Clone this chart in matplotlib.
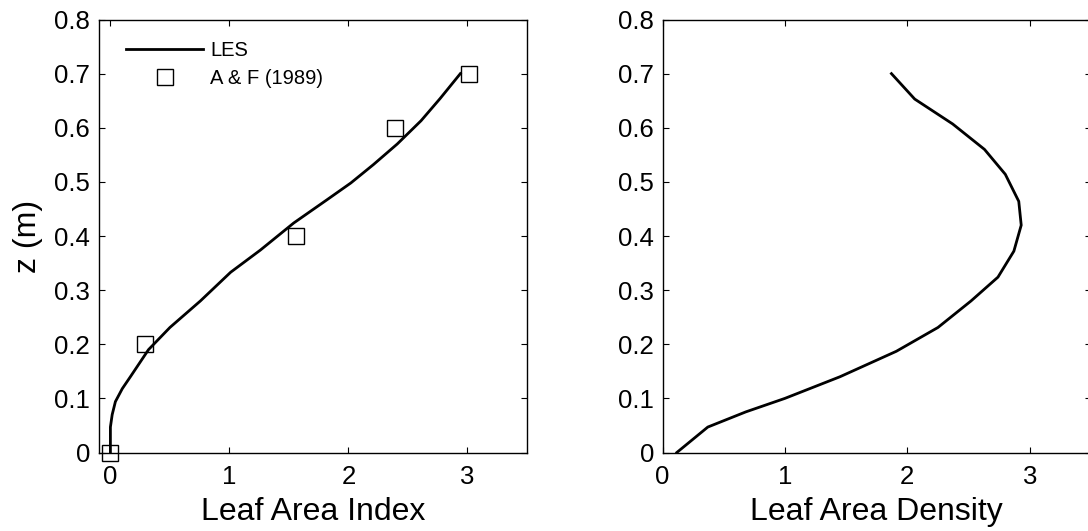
import matplotlib
matplotlib.use("Agg")
from matplotlib import pyplot as plt

plt.rcParams['font.family'] = ['Liberation Sans', 'DejaVu Sans']

# LES cumulative leaf area index profile
lai_les = [0.0, 0.0, 0.015, 0.042, 0.10, 0.168, 0.32, 0.50, 0.756, 1.01, 1.26, 1.54,
           1.82, 2.02, 2.21, 2.41, 2.61, 2.77, 2.94]
z_lai = [0.0, 0.047, 0.07, 0.094, 0.118, 0.14, 0.19, 0.231, 0.28, 0.333, 0.374, 0.424,
         0.467, 0.498, 0.532, 0.57, 0.613, 0.654, 0.70]

# A & F (1989) measurements
lai_af = [0.0, 0.29, 1.56, 2.39, 3.01]
z_af = [0.0, 0.2, 0.4, 0.6, 0.7]

# leaf area density profile
lad = [0.117, 0.37, 0.68, 1.0, 1.45, 1.91, 2.25, 2.52, 2.74, 2.87, 2.93,
       2.91, 2.80, 2.63, 2.37, 2.06, 1.87]
z_lad = [0.0, 0.047, 0.075, 0.1, 0.14, 0.187, 0.231, 0.28, 0.324, 0.372,
         0.42, 0.464, 0.514, 0.56, 0.607, 0.653, 0.70]

fig = plt.figure(figsize=(10.88, 5.31), dpi=100)
W, H = 1088, 531
ax1 = fig.add_axes([98.5 / W, 1 - 452.5 / H, 428.5 / W, 433 / H])
ax2 = fig.add_axes([662.5 / W, 1 - 452.5 / H, 428.5 / W, 433 / H])

ax1.plot(lai_les, z_lai, color='k', lw=2, label='LES')
ax1.plot(lai_af, z_af, 's', ms=12, mfc='none', mec='k', mew=1,
         label='A & F (1989)', clip_on=False)
ax1.set_xlim(-0.1, 3.5)
ax1.set_xlabel('Leaf Area Index', fontsize=23, labelpad=6)
ax1.set_ylabel('z (m)', fontsize=23, labelpad=8)
ax1.legend(loc='upper left', frameon=False, fontsize=14.5, handlelength=3.8,
           handletextpad=0.35, bbox_to_anchor=(0.023, 0.993), labelspacing=0.45)

ax2.plot(lad, z_lad, color='k', lw=2)
ax2.set_xlim(0, 3.5)
ax2.set_xlabel('Leaf Area Density', fontsize=23, labelpad=6)

for ax in (ax1, ax2):
    ax.set_ylim(0, 0.8)
    ax.set_xticks([0, 1, 2, 3])
    ax.set_yticks([0, 0.1, 0.2, 0.3, 0.4, 0.5, 0.6, 0.7, 0.8])
    ax.set_yticklabels(['0', '0.1', '0.2', '0.3', '0.4', '0.5', '0.6', '0.7', '0.8'])
    ax.tick_params(direction='in', top=True, right=True, length=4, width=0.8,
                   labelsize=18.5, pad=6)
    ax.tick_params(axis='x', pad=9)
    for s in ax.spines.values():
        s.set_linewidth(1)

fig.savefig('out.png', dpi=100)
